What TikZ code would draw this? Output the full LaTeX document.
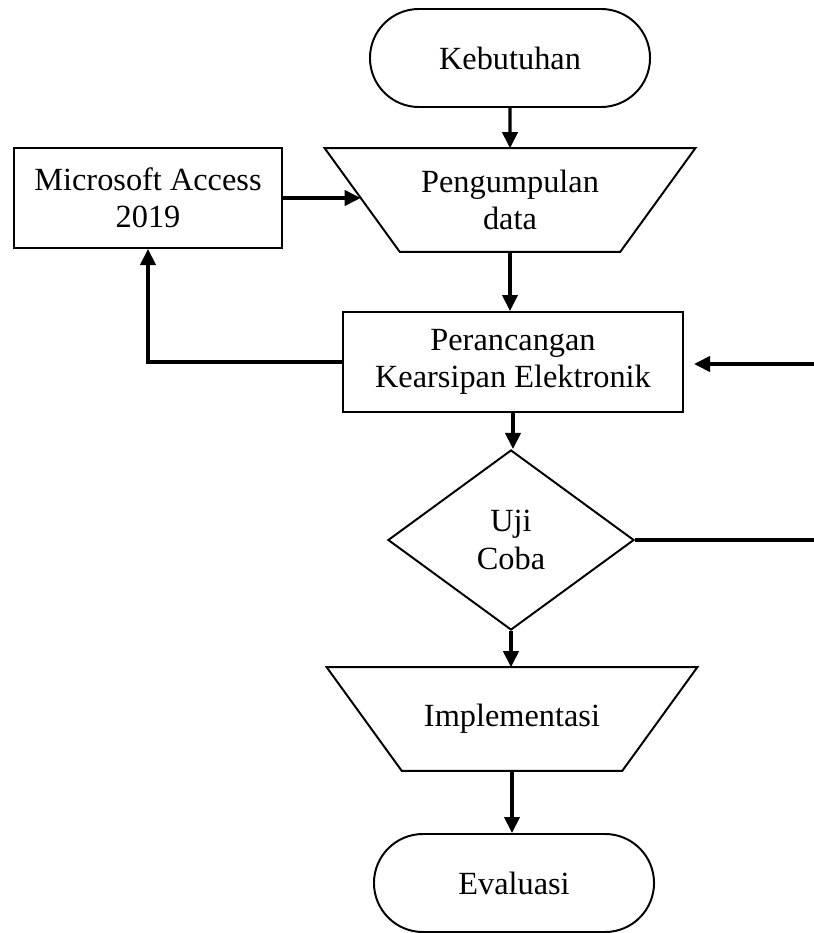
\documentclass[tikz,border=0pt]{standalone}
\usepackage{fontspec}
\setmainfont{Liberation Serif}
\usetikzlibrary{arrows.meta,shapes.geometric,shapes.misc}

\begin{document}
\begin{tikzpicture}[x=0.025cm,y=-0.025cm,
        every node/.style={font=\fontsize{23}{26.5}\selectfont,align=center,inner sep=0pt},
        terminal/.style={draw,line width=1.4pt,rounded rectangle,minimum width=7cm,minimum height=2.45cm},
        kotak/.style={draw,line width=1.4pt,rectangle,minimum height=2.5cm},
        masukan/.style={rectangle,minimum width=9.25cm,minimum height=2.575cm},
        keputusan/.style={draw,line width=1.4pt,diamond,aspect=1.37,minimum width=6.15cm,minimum height=4.5cm},
        sisi/.style={line width=1.4pt,line join=miter},
        panah/.style={line width=2.4pt,-{Triangle[length=0.4cm,width=0.38cm]}},
        garis/.style={line width=2.4pt}]
        \useasboundingbox (0,0) rectangle (814,933);

        \node[terminal] (butuh) at (510,58) {Kebutuhan};
        \node[masukan] (kumpul) at (510,200) {Pengumpulan\\data};
        \node[kotak,minimum width=6.7cm] (access) at (148,198) {Microsoft Access\\2019};
        \node[kotak,minimum width=8.5cm] (rancang) at (513,362) {Perancangan\\Kearsipan Elektronik};
        \node[keputusan] (uji) at (511,540) {Uji\\Coba};
        \node[masukan] (impl) at (512,719) {Implementasi};
        \node[terminal] (eval) at (514,883) {Evaluasi};

        \draw[sisi] (kumpul.north west) -- (kumpul.north east) -- ([xshift=-1.875cm]kumpul.south east) -- ([xshift=1.875cm]kumpul.south west) -- cycle;
        \draw[sisi] (impl.north west) -- (impl.north east) -- ([xshift=-1.875cm]impl.south east) -- ([xshift=1.875cm]impl.south west) -- cycle;

        \coordinate (kumpulkiri) at ([xshift=0.9cm]kumpul.west);
        \coordinate (balik) at (814,364);
        \coordinate (keluar) at (814,540);

        \draw[panah] (butuh) -- (butuh |- kumpul.north);
        \draw[panah] (access.east) -- (access.east -| kumpulkiri);
        \draw[panah] (kumpul) -- (kumpul |- rancang.north);
        \draw[panah] (rancang.west) -| (access.south);
        \draw[panah,shorten >=0.25cm] (balik) -- (balik -| rancang.east);
        \draw[panah] (rancang) -- (rancang |- uji.north);
        \draw[garis] (uji.east) -- (keluar);
        \draw[panah] (uji) -- (uji |- impl.north);
        \draw[panah] (impl) -- (impl |- eval.north);
    \end{tikzpicture}
\end{document}
